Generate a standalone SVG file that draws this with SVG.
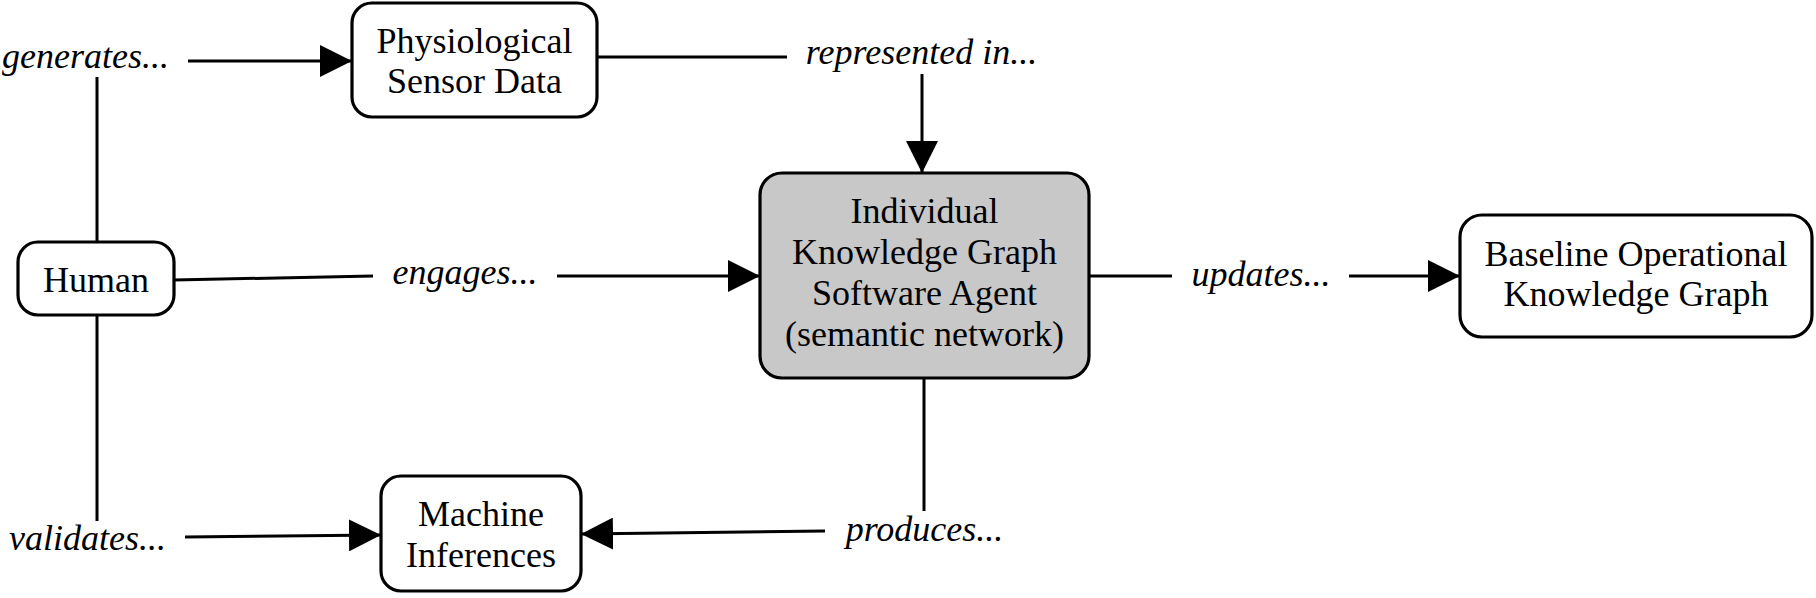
<svg xmlns="http://www.w3.org/2000/svg" width="1816" height="598" viewBox="0 0 1816 598">
<style>
.box{fill:#ffffff;stroke:#000000;stroke-width:3.2}
.core{fill:#c8c8c8;stroke:#000000;stroke-width:3.2}
.t{font-family:"Liberation Serif","Times New Roman",serif;font-size:36px;fill:#000000;text-anchor:middle}
.lbl{font-family:"Liberation Serif","Times New Roman",serif;font-size:36px;font-style:italic;fill:#000000;text-anchor:middle}
.c{stroke:#000000;stroke-width:3;fill:none}
.a{marker-end:url(#arr)}
</style>
<defs>
<marker id="arr" viewBox="0 0 32 32" refX="32" refY="16" markerWidth="32" markerHeight="32" markerUnits="userSpaceOnUse" orient="auto">
<path d="M0,0 L32,16 L0,32 Z" fill="#000000"/>
</marker>
</defs>
<rect width="1816" height="598" fill="#ffffff"/>
<g id="connectors">
<line class="c" x1="97" y1="242" x2="97" y2="77"/>
<line class="c a" x1="188" y1="61" x2="352" y2="61"/>
<line class="c" x1="597" y1="57" x2="787" y2="57"/>
<line class="c a" x1="922" y1="74" x2="922" y2="173"/>
<line class="c" x1="174" y1="280" x2="373" y2="276"/>
<line class="c a" x1="557" y1="276" x2="760" y2="276"/>
<line class="c" x1="1089" y1="276" x2="1172" y2="276"/>
<line class="c a" x1="1349" y1="276" x2="1460" y2="276"/>
<line class="c" x1="97" y1="315" x2="97" y2="521"/>
<line class="c a" x1="185" y1="537" x2="381" y2="535"/>
<line class="c" x1="924" y1="379" x2="924" y2="511"/>
<line class="c a" x1="825" y1="531" x2="581" y2="534"/>
<text class="lbl" x="85.5" y="68">generates...</text>
<text class="lbl" x="921.5" y="64">represented in...</text>
<text class="lbl" x="465" y="284">engages...</text>
<text class="lbl" x="1261" y="286">updates...</text>
<text class="lbl" x="87.5" y="550">validates...</text>
<text class="lbl" x="924.5" y="541">produces...</text>
</g>
<g id="physio">
<rect class="box" x="352" y="3" width="245" height="114" rx="20"/>
<text class="t" x="474.5" y="53">Physiological</text>
<text class="t" x="474.5" y="93">Sensor Data</text>
</g>
<g id="human">
<rect class="box" x="18" y="242" width="156" height="73" rx="20"/>
<text class="t" x="96" y="292">Human</text>
</g>
<g id="agent">
<rect class="core" x="760" y="173" width="329" height="205" rx="22"/>
<text class="t" x="924.5" y="223">Individual</text>
<text class="t" x="924.5" y="264">Knowledge Graph</text>
<text class="t" x="924.5" y="305">Software Agent</text>
<text class="t" x="924.5" y="346">(semantic network)</text>
</g>
<g id="baseline">
<rect class="box" x="1460" y="215" width="352" height="122" rx="22"/>
<text class="t" x="1636" y="266">Baseline Operational</text>
<text class="t" x="1636" y="306">Knowledge Graph</text>
</g>
<g id="machine">
<rect class="box" x="381" y="476" width="200" height="115" rx="20"/>
<text class="t" x="481" y="526">Machine</text>
<text class="t" x="481" y="567">Inferences</text>
</g>
</svg>
